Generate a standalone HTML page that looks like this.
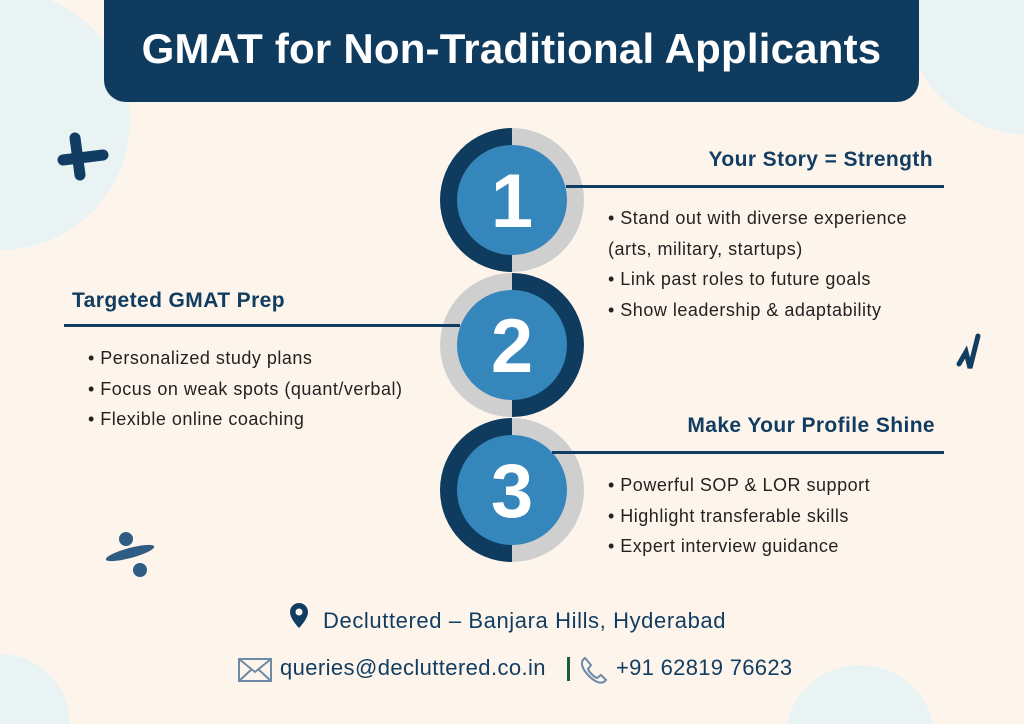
<!DOCTYPE html>
<html style="overflow:hidden"><head><style>
html,body{margin:0;width:1024px;height:724px;overflow:hidden}
body{background:#fdf5eb;font-family:"Liberation Sans",sans-serif;position:relative}
.a{position:absolute;white-space:nowrap}
.h{font-weight:bold;color:#123d62;font-size:21px;letter-spacing:0.4px}
.b{color:#222;font-size:18px;letter-spacing:0.5px}
.ln{position:absolute;height:3px;background:#123d62}
.f{color:#123d62;font-size:22px;letter-spacing:0.6px}
</style></head><body>
<svg class="a" style="left:0;top:0" width="1024" height="724">
<circle cx="0" cy="120" r="130" fill="#e9f3f3"/>
<circle cx="1030" cy="10" r="125" fill="#e9f3f3"/>
<circle cx="0" cy="724" r="70" fill="#e9f3f3"/>
<circle cx="860" cy="740" r="75" fill="#e9f3f3"/>
<rect x="104" y="-30" width="815" height="132" rx="22" fill="#0f3b5e"/>
<g stroke="#123d62" stroke-width="11" stroke-linecap="round"><line x1="75" y1="138" x2="80" y2="175"/><line x1="63" y1="160" x2="103" y2="155"/></g>
<path d="M959 364 L966 352 L970 368 L978 336" stroke="#123d62" stroke-width="5" fill="none" stroke-linecap="round"/>
<circle cx="126" cy="539" r="7" fill="#2f5c82"/><ellipse cx="130" cy="553" rx="25" ry="5" transform="rotate(-15 130 553)" fill="#2f5c82"/><circle cx="140" cy="570" r="7" fill="#2f5c82"/>
<g>
<path d="M512 128 A72 72 0 0 0 512 272Z" fill="#0f3b5e"/><path d="M512 128 A72 72 0 0 1 512 272Z" fill="#cfcfcf"/><circle cx="512" cy="200" r="55" fill="#3586bb"/>
<path d="M512 273 A72 72 0 0 0 512 417Z" fill="#cfcfcf"/><path d="M512 273 A72 72 0 0 1 512 417Z" fill="#0f3b5e"/><circle cx="512" cy="345" r="55" fill="#3586bb"/>
<path d="M512 418 A72 72 0 0 0 512 562Z" fill="#0f3b5e"/><path d="M512 418 A72 72 0 0 1 512 562Z" fill="#cfcfcf"/><circle cx="512" cy="490" r="55" fill="#3586bb"/>
<g fill="#fff" font-family="Liberation Sans" font-weight="bold" font-size="76" text-anchor="middle"><text x="512" y="227">1</text><text x="512" y="372">2</text><text x="512" y="517">3</text></g>
</g>
<path d="M290 612 a9 9 0 0 1 18 0 c0 7 -9 16 -9 16 c0 0 -9 -9 -9 -16z" fill="#123d62"/><circle cx="299" cy="612" r="3.5" fill="#fdf5eb"/>
<rect x="239" y="659" width="32" height="22" fill="none" stroke="#6a8aa8" stroke-width="2"/><path d="M239 659 L255 672 L271 659 M239 681 L252 669 M271 681 L258 669" stroke="#6a8aa8" stroke-width="2" fill="none"/>
<rect x="567" y="657" width="3" height="24" fill="#1b5e3a"/>
<path d="M585 658 c-5 3 -4 10 4 18 c8 8 14 8 17 4 l-5 -5 l-4 3 c-3 -1 -8 -6 -9 -9 l3 -4z" fill="none" stroke="#6a8aa8" stroke-width="2"/>
</svg>
<div class="a" style="left:104px;width:815px;top:25px;text-align:center;color:#fff;font-weight:bold;font-size:42px;letter-spacing:0.2px">GMAT for Non-Traditional Applicants</div>
<div class="a h" style="right:91px;top:148px">Your Story = Strength</div>
<div class="ln" style="left:566px;width:378px;top:185px"></div>
<div class="a b" style="left:608px;top:203px;line-height:30.5px">• Stand out with diverse experience<br>(arts, military, startups)<br>• Link past roles to future goals<br>• Show leadership &amp; adaptability</div>
<div class="a h" style="left:72px;top:289px">Targeted GMAT Prep</div>
<div class="ln" style="left:64px;width:396px;top:324px"></div>
<div class="a b" style="left:88px;top:343px;line-height:30.5px">• Personalized study plans<br>• Focus on weak spots (quant/verbal)<br>• Flexible online coaching</div>
<div class="a h" style="right:89px;top:414px">Make Your Profile Shine</div>
<div class="ln" style="left:552px;width:392px;top:451px"></div>
<div class="a b" style="left:608px;top:470px;line-height:30.5px">• Powerful SOP &amp; LOR support<br>• Highlight transferable skills<br>• Expert interview guidance</div>
<div class="a f" style="left:323px;top:608px">Decluttered – Banjara Hills, Hyderabad</div>
<div class="a f" style="left:280px;top:655px;letter-spacing:0.4px">queries@decluttered.co.in</div>
<div class="a f" style="left:616px;top:655px;letter-spacing:0.3px">+91 62819 76623</div>
</body></html>
